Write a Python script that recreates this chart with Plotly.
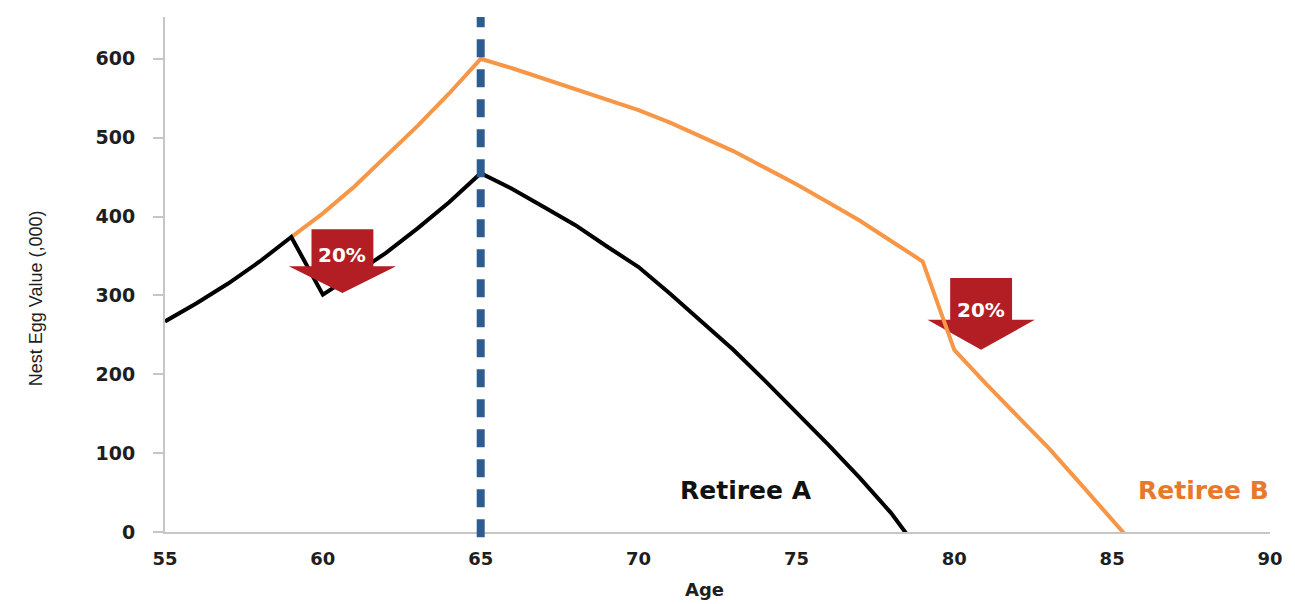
import plotly.graph_objects as go

# Nest egg value (thousands) by age for two retirees
ages_a = [55, 56, 57, 58, 59, 60, 61, 62, 63, 64, 65, 66, 67, 68, 69, 70, 71, 72,
          73, 74, 75, 76, 77, 78, 79]
values_a = [267, 290, 315, 343, 374, 301, 327, 354, 385, 418, 455, 435, 412, 389, 362,
            336, 302, 266, 231, 192, 152, 111, 69, 24, -30]

ages_b = [59, 60, 61, 62, 63, 64, 65, 66, 67, 68, 69, 70, 71, 72, 73, 74, 75, 76,
          77, 78, 79, 80, 81, 82, 83, 84, 85, 86]
values_b = [374, 404, 438, 476, 515, 556, 600, 588, 575, 562, 548, 535, 519, 501, 483,
            462, 441, 418, 395, 369, 343, 231, 188, 147, 106, 61, 16, -30]

retirement_age = 65

# Market-drop callouts: (centre age, box top, head base, tip, label y, label)
drops = [
    (60.62, 384, 337, 303, 351, "20%"),
    (80.85, 322, 269, 231, 281, "20%"),
]
drop_body_half = 0.98   # half-width of arrow body, in years
drop_head_half = 1.70   # half-width of arrow head, in years

x_ticks = [55, 60, 65, 70, 75, 80, 85, 90]
y_ticks = [0, 100, 200, 300, 400, 500, 600]

BLACK = "#000000"
ORANGE = "#F79646"
ORANGE_TEXT = "#E8792B"
NAVY = "#2F5C8F"
RED = "#B21E24"
AXIS_GREY = "#C6C6C6"
TEXT = "#1E1E1E"

fig = go.Figure()
fig.add_trace(go.Scatter(x=ages_b, y=values_b, mode="lines",
                         line=dict(color=ORANGE, width=4), name="Retiree B"))
fig.add_trace(go.Scatter(x=ages_a, y=values_a, mode="lines",
                         line=dict(color=BLACK, width=4), name="Retiree A"))

shapes = []
for i, (cx, top, base, tip, ly, txt) in enumerate(drops):
    path = (f"M {cx - drop_body_half},{top} L {cx + drop_body_half},{top} "
            f"L {cx + drop_body_half},{base} L {cx + drop_head_half},{base} "
            f"L {cx},{tip} L {cx - drop_head_half},{base} "
            f"L {cx - drop_body_half},{base} Z")
    shapes.append(dict(type="path", path=path, xref="x", yref="y",
                       fillcolor=RED, line=dict(width=0),
                       layer="above" if i == 0 else "below"))

shapes.append(dict(type="line", xref="x", yref="paper",
                   x0=retirement_age, x1=retirement_age, y0=-0.01, y1=1.0,
                   line=dict(color=NAVY, width=8, dash="18px,12px"),
                   layer="above"))

annotations = []
for cx, top, base, tip, ly, txt in drops:
    annotations.append(dict(x=cx, y=ly, xref="x", yref="y", text=txt,
                            showarrow=False,
                            font=dict(family="DejaVu Sans", size=20,
                                      color="white", weight="bold")))

annotations += [
    dict(x=73.4, y=53, xref="x", yref="y", text="Retiree A", showarrow=False,
         font=dict(family="DejaVu Sans", size=25, color="#111111", weight="bold")),
    dict(x=87.9, y=53, xref="x", yref="y", text="Retiree B", showarrow=False,
         font=dict(family="DejaVu Sans", size=25, color=ORANGE_TEXT, weight="bold")),
    dict(x=0.488, y=-0.136, xref="paper", yref="paper", text="Age",
         showarrow=False, yanchor="bottom",
         font=dict(family="DejaVu Sans", size=18, color=TEXT, weight="bold")),
    dict(x=-0.1276, y=0.454, xref="paper", yref="paper",
         text="Nest Egg Value (,000)", textangle=-90, showarrow=False,
         font=dict(family="Liberation Sans", size=18, color=TEXT)),
]

fig.update_layout(
    width=1295, height=604,
    margin=dict(l=165, r=17, t=17, b=72),
    paper_bgcolor="white", plot_bgcolor="white",
    showlegend=False,
    shapes=shapes, annotations=annotations,
)
fig.update_xaxes(range=[55, 90], tickvals=x_ticks, showgrid=False, zeroline=False,
                 showline=True, linecolor=AXIS_GREY, linewidth=2, ticks="",
                 ticklabelstandoff=9,
                 tickfont=dict(family="DejaVu Sans", size=18, color=TEXT,
                               weight="bold"))
fig.update_yaxes(range=[0, 653], tickvals=y_ticks, showgrid=False, zeroline=False,
                 showline=True, linecolor=AXIS_GREY, linewidth=2, ticks="outside",
                 ticklen=10, tickcolor=AXIS_GREY, tickwidth=1.5,
                 ticklabelstandoff=14,
                 tickfont=dict(family="DejaVu Sans", size=19, color=TEXT,
                               weight="bold"))

fig.write_html("out.html")
